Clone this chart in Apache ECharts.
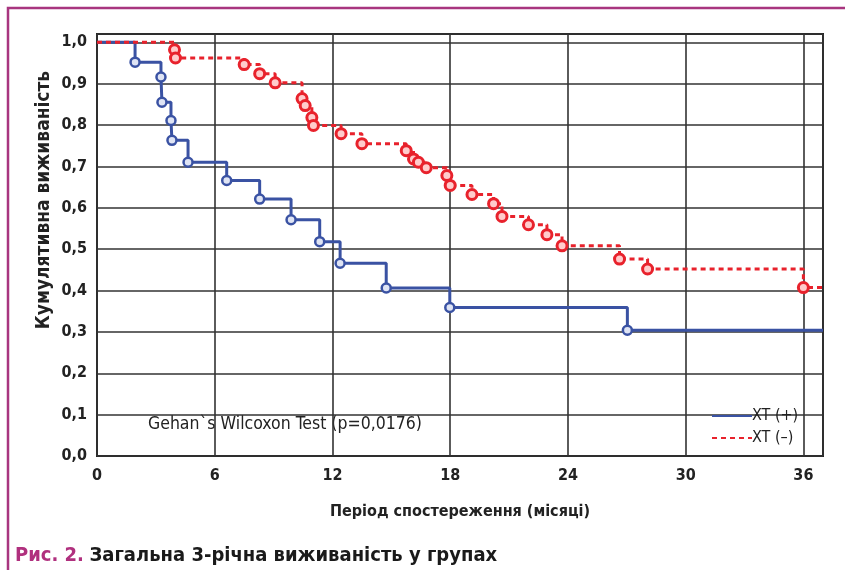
<!DOCTYPE html>
<html>
<head>
<meta charset="utf-8">
<script src="https://cdn.jsdelivr.net/npm/echarts@6/dist/echarts.min.js"></script>
<style>
  html, body { margin: 0; padding: 0; background: #fff; }
  #chart { width: 845px; height: 570px; }
</style>
</head>
<body>
<div id="chart"></div>
<script>
// survival curves (months, cumulative survival)
const blueTime = [0, 1.94, 3.26, 3.31, 3.77, 3.82, 4.64, 6.61, 8.29, 9.89, 11.35, 12.39, 14.74, 17.98, 27.03, 37];
const blueSurv = [1.0, 0.952, 0.916, 0.855, 0.811, 0.763, 0.710, 0.666, 0.621, 0.571, 0.518, 0.466, 0.406, 0.359, 0.304, 0.304];
const redTime = [0, 3.95, 4.0, 7.50, 8.29, 9.08, 10.45, 10.61, 10.95, 11.03, 12.44, 13.50, 15.76, 16.13, 16.38, 16.78, 17.83, 18.0, 19.11, 20.21, 20.64, 21.99, 22.93, 23.70, 26.63, 28.06, 36.0, 37];
const redSurv = [1.0, 0.982, 0.962, 0.946, 0.924, 0.902, 0.864, 0.847, 0.818, 0.799, 0.779, 0.755, 0.738, 0.718, 0.710, 0.697, 0.678, 0.654, 0.632, 0.610, 0.579, 0.559, 0.535, 0.508, 0.476, 0.452, 0.407, 0.407];
const seriesNames = ['XT (+)', 'XT (–)'];

const FONT = "'Liberation Sans Narrow', 'DejaVu Sans Condensed', 'Roboto', sans-serif";
const BLUE = '#3a52a3', RED = '#e8222c';

// first and last points are curve ends, not events -> no marker there
function toData(t, s) {
  return t.map((x, i) => {
    const item = { value: [x, s[i]] };
    if (i === 0 || i === t.length - 1) item.symbol = 'none';
    return item;
  });
}

const chart = echarts.init(document.getElementById('chart'));
const option = {
  backgroundColor: '#fff',
  animation: false,
  textStyle: { fontFamily: FONT },
  grid: { left: 97, right: 22, top: 34, bottom: 114, show: true, borderColor: '#222', borderWidth: 2 },
  title: {
    text: '{a|Рис. 2.} {b|Загальна 3-річна виживаність у групах}',
    left: 10, top: 541,
    textStyle: {
      rich: {
        a: { fontFamily: FONT, fontSize: 20, fontWeight: 'bold', color: '#b0307e' },
        b: { fontFamily: FONT, fontSize: 20, color: '#1a1a1a' }
      }
    }
  },
  legend: {
    orient: 'vertical', left: 706, top: 403,
    itemWidth: 40, itemHeight: 10, itemGap: 6,
    itemStyle: { opacity: 0 },
    textStyle: { fontFamily: FONT, fontSize: 16, color: '#222', padding: [0, 0, 0, -5] },
    data: seriesNames
  },
  xAxis: {
    type: 'value', min: 0, max: 37, interval: 6,
    name: 'Період спостереження (місяці)', nameLocation: 'middle', nameGap: 48,
    nameTextStyle: { fontFamily: FONT, fontSize: 16, fontWeight: 'bold', color: '#222' },
    axisLine: { show: false }, axisTick: { show: false },
    axisLabel: { showMaxLabel: false, margin: 12, fontFamily: FONT, fontSize: 16, fontWeight: 'bold', color: '#222' },
    splitLine: { lineStyle: { color: '#333', width: 1.6 } }
  },
  yAxis: {
    type: 'value', min: 0, max: 1.02, interval: 0.1,
    axisLine: { show: false }, axisTick: { show: false },
    axisLabel: {
      showMaxLabel: false, margin: 10, fontFamily: FONT, fontSize: 16, fontWeight: 'bold', color: '#222',
      formatter: v => v.toFixed(1).replace('.', ',')
    },
    splitLine: { lineStyle: { color: '#333', width: 1.6 } }
  },
  graphic: [
    { type: 'polyline', shape: { points: [[8, 570], [8, 8], [845, 8]] }, style: { stroke: '#a8357f', lineWidth: 2.5, fill: null } },
    { type: 'text', x: 44, y: 200, rotation: Math.PI / 2,
      style: { text: 'Кумулятивна виживаність', fontFamily: FONT, fontSize: 19, fontWeight: 'bold', fill: '#222', align: 'center', verticalAlign: 'middle' } },
    { type: 'text', x: 148, y: 424,
      style: { text: 'Gehan`s Wilcoxon Test (p=0,0176)', fontFamily: FONT, fontSize: 17.5, fill: '#222', verticalAlign: 'middle' } }
  ],
  series: [
    {
      name: seriesNames[0], type: 'line', step: 'end', z: 3,
      data: toData(blueTime, blueSurv),
      symbol: 'circle', symbolSize: 9,
      lineStyle: { color: BLUE, width: 3 },
      itemStyle: { color: '#dfe4f4', borderColor: BLUE, borderWidth: 2.5 }
    },
    {
      name: seriesNames[1], type: 'line', step: 'end', z: 4,
      data: toData(redTime, redSurv),
      symbol: 'circle', symbolSize: 10,
      lineStyle: { color: RED, width: 3, type: [5, 4] },
      itemStyle: { color: '#ffcccc', borderColor: RED, borderWidth: 3 }
    }
  ]
};
chart.setOption(option);
</script>
</body>
</html>
